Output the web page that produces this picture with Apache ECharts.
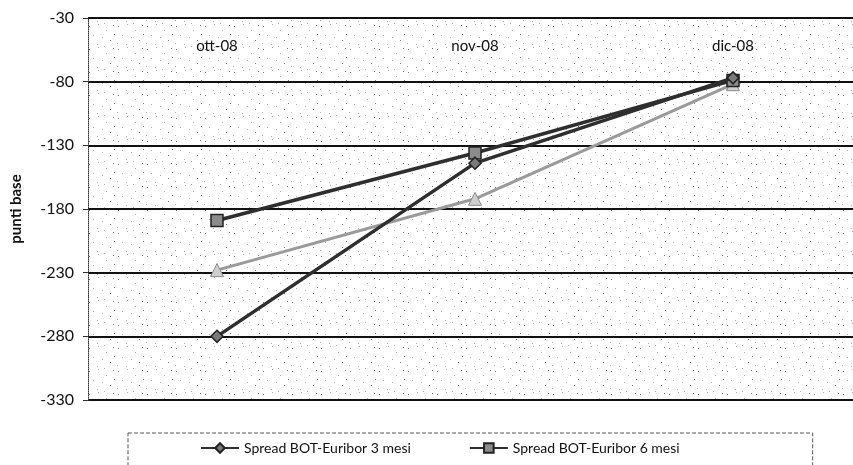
<!DOCTYPE html>
<html>
<head>
<meta charset="utf-8">
<script src="https://cdn.jsdelivr.net/npm/echarts@6/dist/echarts.min.js"></script>
<style>
html,body{margin:0;padding:0;background:#fff;}
#chart{width:853px;height:465px;}
</style>
</head>
<body>
<div id="chart"></div>
<script>
var categories = ['ott-08', 'nov-08', 'dic-08'];
var spread3m = [-280, -144, -77];
var spread6m = [-189, -136, -79];
var spread12m = [-228, -172, -82];
var seriesNames = ['Spread BOT-Euribor 3 mesi', 'Spread BOT-Euribor 6 mesi', 'Spread BOT-Euribor 12 mesi'];
var yMin = -330, yMax = -30, yStep = 50;

// stipple texture for plot background (deterministic)
var pc = document.createElement('canvas');
pc.width = 29; pc.height = 23;
var pctx = pc.getContext('2d');
pctx.fillStyle = '#ffffff';
pctx.fillRect(0, 0, 29, 23);
var dots = [[2,3],[11,1],[19,7],[26,2],[6,12],[15,14],[23,17],[1,20],[10,21],[27,11],[17,0]];
dots.forEach(function (d, i) {
  pctx.fillStyle = i % 3 === 0 ? '#7a7a7a' : '#b0b0b0';
  pctx.fillRect(d[0], d[1], 1, 1);
});

var chart = echarts.init(document.getElementById('chart'));
var font = 'Lato, "Open Sans", sans-serif';
chart.setOption({
  animation: false,
  textStyle: { fontFamily: font },
  grid: {
    left: 88, top: 18, width: 774, height: 382,
    outerBoundsMode: 'none',
    containLabel: false,
    show: true, borderWidth: 0,
    backgroundColor: { image: pc, repeat: 'repeat' }
  },
  legend: {
    data: seriesNames,
    left: 128, top: 433, width: 550,
    padding: [8, 133, 30, 72],
    itemGap: 58,
    itemWidth: 38, itemHeight: 12,
    borderColor: '#555', borderWidth: 1, borderType: 'dashed',
    textStyle: { fontFamily: font, fontSize: 14, color: '#111' }
  },
  xAxis: {
    type: 'category',
    data: categories,
    position: 'top',
    boundaryGap: true,
    axisLine: { show: false },
    axisTick: { show: false },
    axisLabel: { inside: true, margin: 21, fontSize: 15, color: '#111', fontFamily: font }
  },
  yAxis: {
    type: 'value',
    min: yMin, max: yMax, interval: yStep,
    name: 'punti base',
    nameLocation: 'middle',
    nameGap: 64,
    nameTextStyle: { fontWeight: 'bold', fontSize: 15, color: '#111', fontFamily: font },
    axisLine: { show: true, lineStyle: { color: '#333', width: 1, type: 'dotted' } },
    axisTick: { show: true, length: 5, lineStyle: { color: '#333' } },
    axisLabel: { fontSize: 16, color: '#111', margin: 14, fontFamily: font },
    splitLine: { show: true, lineStyle: { color: '#111', width: 2 } }
  },
  series: [
    {
      name: seriesNames[0], type: 'line', data: spread3m, z: 4,
      symbol: 'diamond', symbolSize: 12,
      lineStyle: { color: '#2e2e2e', width: 3.5 },
      itemStyle: { color: '#7a7a7a', borderColor: '#222', borderWidth: 1.5 }
    },
    {
      name: seriesNames[1], type: 'line', data: spread6m, z: 3,
      symbol: 'rect', symbolSize: 12,
      lineStyle: { color: '#2e2e2e', width: 3.5 },
      itemStyle: { color: '#8c8c8c', borderColor: '#222', borderWidth: 1.5 }
    },
    {
      name: seriesNames[2], type: 'line', data: spread12m, z: 2,
      symbol: 'triangle', symbolSize: 13,
      lineStyle: { color: '#9a9a9a', width: 3 },
      itemStyle: { color: '#cfcfcf', borderColor: '#8a8a8a', borderWidth: 1 }
    }
  ]
});
</script>
</body>
</html>
